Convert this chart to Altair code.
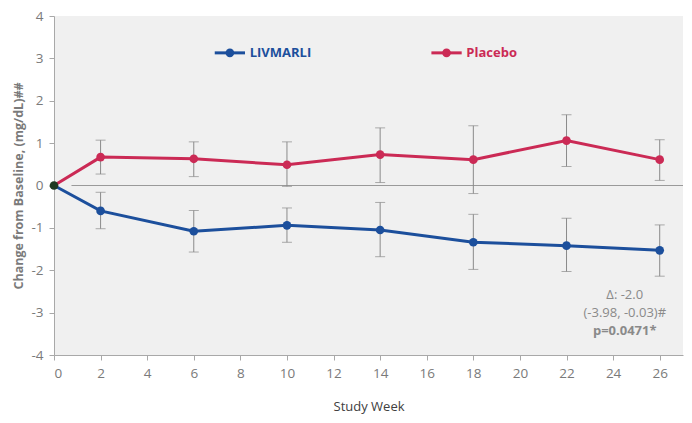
import altair as alt
import pandas as pd

weeks = [0, 2, 6, 10, 14, 18, 22, 26]
livmarli_mean = [0, -0.60, -1.08, -0.94, -1.05, -1.34, -1.42, -1.53]
livmarli_lo = [None, -1.02, -1.57, -1.34, -1.68, -1.98, -2.03, -2.14]
livmarli_hi = [None, -0.16, -0.59, -0.53, -0.40, -0.68, -0.77, -0.93]
placebo_mean = [0, 0.67, 0.63, 0.49, 0.73, 0.61, 1.06, 0.61]
placebo_lo = [None, 0.27, 0.21, -0.02, 0.07, -0.19, 0.45, 0.12]
placebo_hi = [None, 1.07, 1.03, 1.03, 1.36, 1.41, 1.67, 1.08]

series_names = ["LIVMARLI", "Placebo"]
series_colors = ["#1c4f9c", "#cb2a55"]
annotation_lines = ["Δ: -2.0", "(-3.98, -0.03)#", "p=0.0471*"]

FONT = "Open Sans"
GREY = "#8a8a8a"

rows = []
for name, m, lo, hi in [("LIVMARLI", livmarli_mean, livmarli_lo, livmarli_hi),
                        ("Placebo", placebo_mean, placebo_lo, placebo_hi)]:
    for w, a, b, c in zip(weeks, m, lo, hi):
        rows.append({"series": name, "week": w, "mean": a, "lo": b, "hi": c})
df = pd.DataFrame(rows)
df_err = df[df["week"] > 0]

xscale = alt.Scale(domain=[0, 27], nice=False, zero=False)
yscale = alt.Scale(domain=[-4, 4], nice=False)
cscale = alt.Scale(domain=series_names, range=series_colors)

xax = alt.X("week:Q", scale=xscale,
            axis=alt.Axis(values=list(range(0, 27, 2)), title="Study Week",
                          labelExpr="'' + datum.value",
                          grid=False, domainColor="#a8a8a8", tickColor="#a8a8a8",
                          tickSize=5, labelColor="#7a7a7a", labelFontSize=13.5,
                          labelFont=FONT, titleFont=FONT, titleFontSize=13,
                          titleFontWeight="normal", titleColor="#404040",
                          titlePadding=21, labelPadding=6))
yax = alt.Y("mean:Q", scale=yscale,
            axis=alt.Axis(values=list(range(-4, 5)), title="Change from Baseline,  (mg/dL)##",
                          labelExpr="'' + datum.value",
                          grid=False, domainColor="#a8a8a8", tickColor="#a8a8a8",
                          tickSize=5, labelColor="#7a7a7a", labelFontSize=13.5,
                          labelFont=FONT, titleFont=FONT, titleFontSize=12.5,
                          titleFontWeight="bold", titleColor="#7a7a7a",
                          titlePadding=5, labelPadding=6))

base = alt.Chart(df)

zero_line = alt.Chart(pd.DataFrame({"x1": [0.75], "x2": [27], "y": [0]})).mark_rule(
    color="#9a9a9a", strokeWidth=1).encode(
    x=alt.X("x1:Q", scale=xscale), x2="x2:Q", y=alt.Y("y:Q", scale=yscale))

err_rule = alt.Chart(df_err).mark_rule(color=GREY, strokeWidth=1).encode(
    x=alt.X("week:Q", scale=xscale), y=alt.Y("lo:Q", scale=yscale), y2="hi:Q")
cap_lo = alt.Chart(df_err).mark_tick(color=GREY, orient="horizontal", size=10, thickness=1).encode(
    x=alt.X("week:Q", scale=xscale), y=alt.Y("lo:Q", scale=yscale))
cap_hi = alt.Chart(df_err).mark_tick(color=GREY, orient="horizontal", size=10, thickness=1).encode(
    x=alt.X("week:Q", scale=xscale), y=alt.Y("hi:Q", scale=yscale))

lines = base.mark_line(strokeWidth=3).encode(
    x=xax, y=yax, color=alt.Color("series:N", scale=cscale, legend=None))
points = alt.Chart(df_err).mark_circle(size=75, opacity=1).encode(
    x=alt.X("week:Q", scale=xscale), y=alt.Y("mean:Q", scale=yscale),
    color=alt.Color("series:N", scale=cscale, legend=None))
origin = alt.Chart(df[df["week"] == 0].head(1)).mark_circle(size=75, opacity=1, color="#1f3a22").encode(
    x=alt.X("week:Q", scale=xscale), y=alt.Y("mean:Q", scale=yscale))

# in-plot legend
leg = pd.DataFrame({"series": series_names,
                    "x1": [6.9, 16.2], "x2": [8.2, 17.5], "xd": [7.55, 16.85],
                    "xt": [8.4, 17.7], "y": [3.13, 3.13]})
leg_line = alt.Chart(leg).mark_rule(strokeWidth=3).encode(
    x=alt.X("x1:Q", scale=xscale), x2="x2:Q", y=alt.Y("y:Q", scale=yscale),
    color=alt.Color("series:N", scale=cscale, legend=None))
leg_dot = alt.Chart(leg).mark_circle(size=75, opacity=1).encode(
    x=alt.X("xd:Q", scale=xscale), y=alt.Y("y:Q", scale=yscale),
    color=alt.Color("series:N", scale=cscale, legend=None))
leg_text = alt.Chart(leg).mark_text(align="left", baseline="middle", font=FONT,
                                    fontSize=13, fontWeight="bold").encode(
    x=alt.X("xt:Q", scale=xscale), y=alt.Y("y:Q", scale=yscale), text="series:N",
    color=alt.Color("series:N", scale=cscale, legend=None))

ann = pd.DataFrame({"t": annotation_lines, "x": [24.5] * 3, "y": [-2.58, -3.0, -3.43],
                    "w": ["normal", "normal", "bold"]})
ann_text1 = alt.Chart(ann[ann["w"] == "normal"]).mark_text(
    align="center", baseline="middle", font=FONT, fontSize=13, color="#8a8a8a").encode(
    x=alt.X("x:Q", scale=xscale), y=alt.Y("y:Q", scale=yscale), text="t:N")
ann_text2 = alt.Chart(ann[ann["w"] == "bold"]).mark_text(
    align="center", baseline="middle", font=FONT, fontSize=13, fontWeight="bold",
    color="#8a8a8a").encode(
    x=alt.X("x:Q", scale=xscale), y=alt.Y("y:Q", scale=yscale), text="t:N")

chart = alt.layer(zero_line, err_rule, cap_lo, cap_hi, lines, points, origin,
                  leg_line, leg_dot, leg_text, ann_text1, ann_text2).properties(
    width=629, height=339,
    autosize=alt.AutoSizeParams(type="none"),
    padding={"left": 46, "top": 8, "right": 1, "bottom": 60},
    background="white",
).configure_view(fill="#f0f0f0", stroke=None)

chart.save("out.html", embed_options={"renderer": "svg", "actions": False})
